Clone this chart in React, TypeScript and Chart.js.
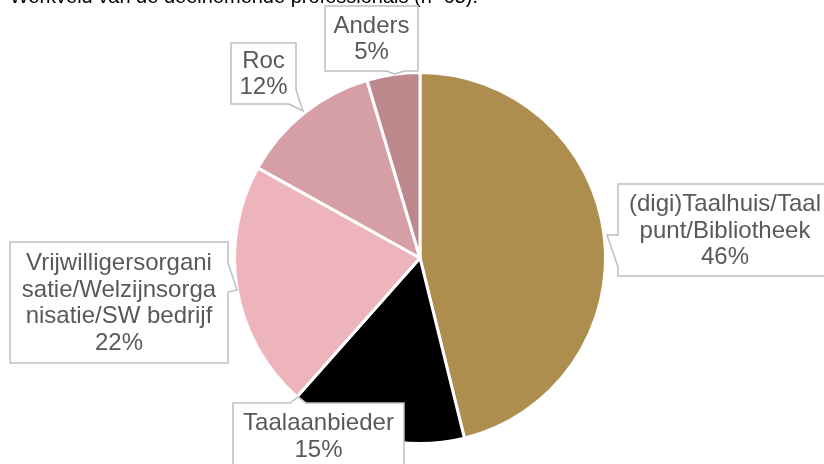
import React, { useEffect, useRef } from "react";
import { Chart, registerables } from "chart.js";

Chart.register(...registerables);

const categories = [
  "(digi)Taalhuis/Taalpunt/Bibliotheek",
  "Taalaanbieder",
  "Vrijwilligersorganisatie/Welzijnsorganisatie/SW bedrijf",
  "Roc",
  "Anders",
];
// counts out of n=65
const counts = [30, 10, 14, 8, 3];
const percentLabels = ["46%", "15%", "22%", "12%", "5%"];
const labelLines = [
  ["(digi)Taalhuis/Taal", "punt/Bibliotheek"],
  ["Taalaanbieder"],
  ["Vrijwilligersorgani", "satie/Welzijnsorga", "nisatie/SW bedrijf"],
  ["Roc"],
  ["Anders"],
];
const sliceColors = ["#AD8E4E", "#000000", "#EDB5BB", "#D59FA5", "#BD888C"];
const titleText = "Werkveld van de deelnemende professionals (n=65).";

// callout layout: box rect, wedge (base points on box edge + tip)
type Callout = {
  x: number; y: number; w: number; h: number;
  wedge: [number, number][]; // [edgeA, tip, edgeB]
  side: "left" | "right" | "top" | "bottom";
};
const calloutLayout: Callout[] = [
  { x: 618, y: 184, w: 214, h: 92, side: "left", wedge: [[618, 235], [607, 235], [618, 267]] },
  { x: 233, y: 403, w: 171, h: 66, side: "top", wedge: [[290, 403], [298, 397], [306, 403]] },
  { x: 10, y: 242, w: 218, h: 121, side: "right", wedge: [[228, 263], [237, 290], [228, 292]] },
  { x: 231, y: 43, w: 65, h: 61, side: "right", wedge: [[296, 90], [303, 111], [289, 104]] },
  { x: 325, y: 6, w: 93, h: 65, side: "bottom", wedge: [[386, 71], [395, 74], [404, 71]] },
];

const FONT = "'Liberation Sans', Arial, sans-serif";

function drawCallout(ctx: CanvasRenderingContext2D, c: Callout, lines: string[]) {
  const { x, y, w, h, wedge, side } = c;
  ctx.save();
  ctx.beginPath();
  ctx.moveTo(x, y);
  if (side === "top") {
    ctx.lineTo(wedge[0][0], y);
    ctx.lineTo(wedge[1][0], wedge[1][1]);
    ctx.lineTo(wedge[2][0], y);
  }
  ctx.lineTo(x + w, y);
  if (side === "right") {
    ctx.lineTo(x + w, wedge[0][1]);
    ctx.lineTo(wedge[1][0], wedge[1][1]);
    if (wedge[2][1] >= y + h) {
      ctx.lineTo(wedge[2][0], y + h);
    } else {
      ctx.lineTo(x + w, wedge[2][1]);
      ctx.lineTo(x + w, y + h);
    }
  } else {
    ctx.lineTo(x + w, y + h);
  }
  if (side === "bottom") {
    ctx.lineTo(wedge[2][0], y + h);
    ctx.lineTo(wedge[1][0], wedge[1][1]);
    ctx.lineTo(wedge[0][0], y + h);
  }
  ctx.lineTo(x, y + h);
  if (side === "left") {
    ctx.lineTo(x, wedge[2][1]);
    ctx.lineTo(wedge[1][0], wedge[1][1]);
    ctx.lineTo(x, wedge[0][1]);
  }
  ctx.closePath();
  ctx.fillStyle = "#FFFFFF";
  ctx.fill();
  ctx.strokeStyle = "#BFBFBF";
  ctx.lineWidth = 1.5;
  ctx.stroke();

  ctx.fillStyle = "#595959";
  ctx.font = `24px ${FONT}`;
  ctx.textAlign = "center";
  ctx.textBaseline = "middle";
  const lh = 26.5;
  const cx = x + w / 2;
  const cy = y + h / 2;
  const start = cy - ((lines.length - 1) * lh) / 2;
  lines.forEach((t, i) => ctx.fillText(t, cx, start + i * lh + 1));
  ctx.restore();
}

const calloutPlugin = {
  id: "callouts",
  afterDraw(chart: any) {
    const ctx: CanvasRenderingContext2D = chart.ctx;
    ctx.save();
    ctx.fillStyle = "#000000";
    ctx.font = `20px ${FONT}`;
    ctx.textAlign = "right";
    ctx.textBaseline = "alphabetic";
    ctx.fillText(titleText, 478, 3);
    ctx.restore();
    categories.forEach((_, i) => {
      drawCallout(ctx, calloutLayout[i], [...labelLines[i], percentLabels[i]]);
    });
  },
};

export default function App() {
  const ref = useRef<HTMLCanvasElement | null>(null);
  useEffect(() => {
    if (!ref.current) return;
    const chart = new Chart(ref.current, {
      type: "pie",
      data: {
        labels: categories,
        datasets: [
          {
            data: counts,
            backgroundColor: sliceColors,
            borderColor: "#FFFFFF",
            borderWidth: 3,
          },
        ],
      },
      options: {
        responsive: false,
        animation: false,
        layout: { padding: { top: 71, bottom: 19, left: 233, right: 217 } },
        plugins: {
          legend: { display: false },
          tooltip: { enabled: false },
          title: { display: false },
        },
      },
      plugins: [calloutPlugin],
    });
    return () => chart.destroy();
  }, []);
  return (
    <div style={{ position: "fixed", left: 0, top: 0, width: 824, height: 464, background: "#fff" }}>
      <canvas ref={ref} width={824} height={464} style={{ display: "block" }} />
    </div>
  );
}
